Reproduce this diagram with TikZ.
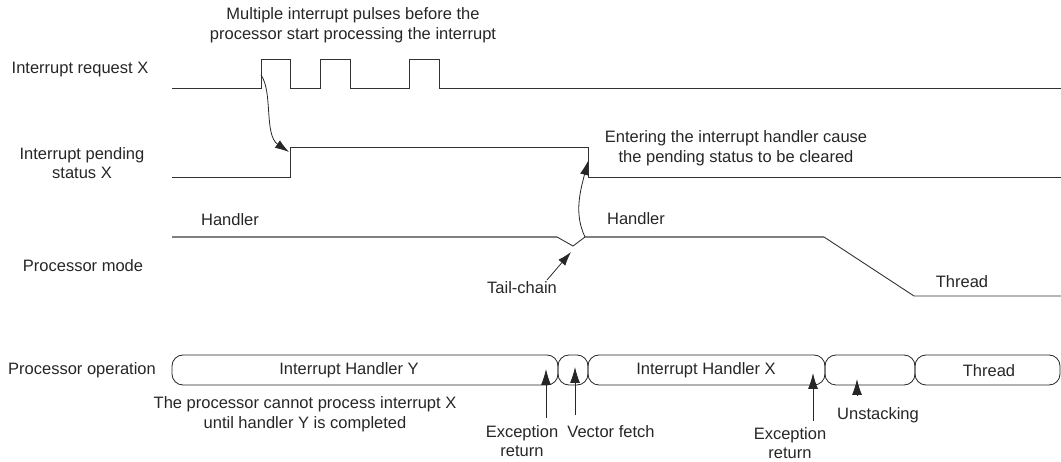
\documentclass[tikz,border=0pt]{standalone}
\usepackage{fontspec}
\setmainfont{Liberation Sans}
\usetikzlibrary{arrows.meta}
\begin{document}
\begin{tikzpicture}[x=1pt,y=-1pt,
  sig/.style={draw=black!80, line width=0.9pt},
  modeline/.style={draw=black!50, line width=1.4pt},
  lbl/.style={font=\fontsize{16.5}{19.5}\selectfont, text=black!85, inner sep=0pt, align=center},
  opbox/.style={draw=black!85, line width=0.8pt, rounded corners=11pt, minimum height=30pt, inner sep=0pt},
  bigarrow/.style={draw=black!85, line width=0.8pt, -{Latex[length=16pt,width=10pt]}},
  thinarrow/.style={draw=black!85, line width=0.8pt, -{Latex[length=14pt,width=9pt]}},
]
\useasboundingbox (0,0) rectangle (1061,462);

% ---------- labels on the left ----------
\node[lbl] (lreq) at (80,70) {Interrupt request X};
\node[lbl] (lpend) at (82,163) {Interrupt pending\\status X};
\node[lbl] (lmode) at (83,266) {Processor mode};
\node[lbl] (lop) at (82,370) {Processor operation};

% ---------- interrupt request X ----------
\coordinate (r0) at (172,88);
\coordinate (r1) at (261,88);
\coordinate (r1h) at (261,59);
\coordinate (r1s) at (261,75);
\draw[sig] (r0) -- (r1) -- (r1h) -- (290,59) -- (290,88) -- (320,88) -- (320,59)
  -- (350,59) -- (350,88) -- (409,88) -- (409,59) -- (439,59) -- (439,88) -- (1061,88);

% ---------- pending status X ----------
\coordinate (p0) at (172,177);
\coordinate (prise) at (290,177);
\coordinate (ptip) at (289,152);
\coordinate (pfall) at (588,147);
\coordinate (ftip) at (588,161);
\draw[sig] (p0) -- (prise) -- (290,147) -- (pfall) -- (588,177) -- (1061,177);

% ---------- processor mode ----------
\coordinate (m0) at (172,237);
\coordinate (dipA) at (557,237);
\coordinate (dipB) at (573,246);
\coordinate (dipC) at (585,237);
\coordinate (m1) at (824,237);
\coordinate (m2) at (914,296);
\draw[modeline] (m0) -- (dipA);
\draw[sig] (dipA) -- (dipB) -- (dipC);
\draw[modeline] (dipC) -- (m1);
\draw[sig] (m1) -- (m2) -- (1061,296);

% ---------- curved arrows ----------
\draw[thinarrow] (r1s) .. controls (273,92) and (264,135) .. (ptip);
\draw[thinarrow] (dipC) .. controls (574,214) and (580,192) .. (ftip);

\node[lbl] (tail) at (522,288) {Tail-chain};
\coordinate (tailtip) at (571,252);
\draw[thinarrow] (547,280) -- (tailtip);

% ---------- texts ----------
\node[lbl] (title) at (353,25) {Multiple interrupt pulses before the\\processor start processing the interrupt};
\node[lbl] (enter) at (736,148) {Entering the interrupt handler cause\\the pending status to be cleared};
\node[lbl] (h1) at (230,220) {Handler};
\node[lbl] (h2) at (636,219) {Handler};
\node[lbl] (th) at (962,282) {Thread};

% ---------- processor operation boxes ----------
\node[opbox, minimum width=386pt] (by) at (365,370) {};
\node[opbox, minimum width=30pt] (bv) at (573,370) {};
\node[opbox, minimum width=237pt] (bx) at (706.5,370) {};
\node[opbox, minimum width=90pt] (bu) at (870,370) {};
\node[opbox, minimum width=145pt] (bt) at (987.5,370) {};
\node[lbl] at (349,370) {Interrupt Handler Y};
\node[lbl] at (706,370) {Interrupt Handler X};
\node[lbl] at (989,371) {Thread};

% ---------- bottom annotations ----------
\node[lbl] (cannot) at (305,414) {The processor cannot process interrupt X\\until handler Y is completed};
\node[lbl] (er1) at (522,441) {Exception\\return};
\node[lbl] (vf) at (611,432) {Vector fetch};
\node[lbl] (er2) at (790,443) {Exception\\return};
\node[lbl] (us) at (878,415) {Unstacking};

\coordinate (er1a) at (546,418);
\coordinate (er1b) at (546,369);
\coordinate (vfa) at (575,415);
\coordinate (vfb) at (575,367);
\coordinate (er2a) at (813,421);
\coordinate (er2b) at (813,373);
\coordinate (usa) at (857,396);
\coordinate (usb) at (857,379);
\draw[bigarrow] (er1a) -- (er1b);
\draw[bigarrow] (vfa) -- (vfb);
\draw[bigarrow] (er2a) -- (er2b);
\draw[bigarrow] (usa) -- (usb);
\end{tikzpicture}
\end{document}
